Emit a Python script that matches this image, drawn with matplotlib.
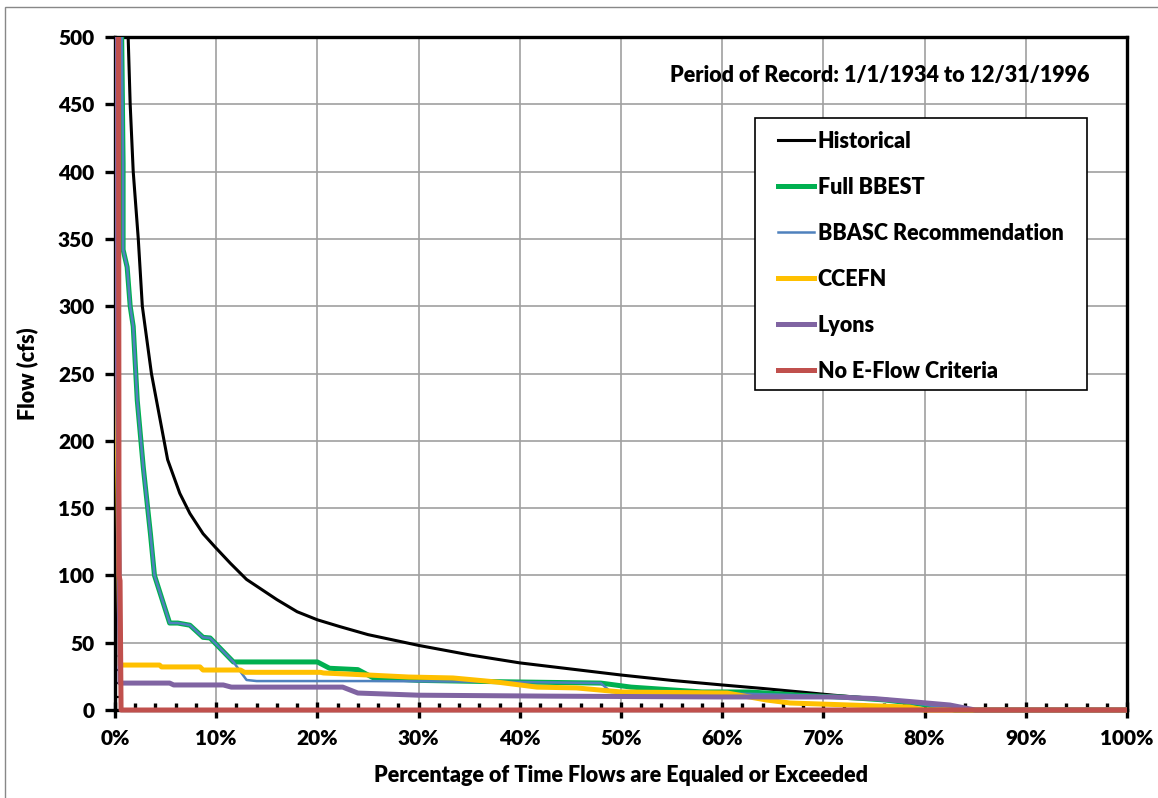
import numpy as np
import matplotlib.pyplot as plt
from matplotlib.patches import Rectangle
from matplotlib.ticker import MultipleLocator, FuncFormatter

plt.rcParams['font.family'] = ['Lato', 'DejaVu Sans']
plt.rcParams['font.weight'] = 'heavy'
W = 'heavy'

# Flow duration curves: percent of time exceeded vs flow (cfs)
hist_pct = [0, 1.0, 1.3, 1.5, 1.8, 2.3, 2.7, 3.6, 4.4, 5.2, 6.4, 7.4, 8.7, 9.9, 11.4, 13.0, 14.6, 16.0,
            18.0, 20.0, 22.2, 25.0, 30.0, 35.0, 40.0, 45.0, 50.0, 55.0, 60.0, 64.0, 67.7, 71.0, 75.0,
            79.0, 82.0, 85.0, 100]
hist_flow = [3000, 700, 500, 450, 400, 350, 300, 250, 218, 186, 161, 146, 131, 121, 109, 97, 89, 82,
             73, 67, 62, 56, 48, 41, 35, 30.5, 26, 22, 18.6, 16, 13.4, 11, 8.5,
             5.5, 2.5, 0, 0]

bbest_pct = [0, 0.5, 0.7, 0.8, 0.8, 1.2, 1.5, 1.8, 2.2, 2.8, 3.5, 3.9, 5.4, 6.2, 7.4, 8.7, 9.4,
             11.7, 20.0, 21.2, 24.0, 25.5, 30.0, 38.0, 48.0, 51.0, 58.0, 62.7, 67.7, 72.0, 76.0, 80.0, 83.0, 100]
bbest_flow = [3000, 600, 475, 406, 342, 329, 300, 285, 230, 180, 131, 100, 64.6, 64.6, 63, 54, 53.5,
              35.7, 35.7, 31, 30, 24, 22, 21, 20, 17, 13.4, 13.4, 11, 9.5, 7.5, 4, 0, 0]

bbasc_pct = [0, 0.5, 0.7, 0.8, 0.8, 1.2, 1.5, 1.8, 2.2, 2.8, 3.5, 3.9, 5.4, 6.2, 7.4, 8.7, 9.4,
             11.7, 13.0, 14.0, 25.0, 38.0, 48.0, 49.0, 58.0, 62.7, 67.7, 72.0, 76.0, 80.0, 83.0, 100]
bbasc_flow = [3000, 600, 475, 406, 342, 329, 300, 285, 230, 180, 131, 100, 64.6, 64.6, 63, 54, 53.5,
              35.7, 22.3, 21.5, 21.5, 21, 20, 13.4, 12.5, 12, 11, 9.5, 7.5, 4, 0, 0]

ccefn_pct = [0, 0.1, 0.2, 0.5, 4.4, 4.6, 8.4, 8.7, 12.4, 12.8, 20.3, 20.6, 25.0, 29.0, 33.4,
             37.7, 41.7, 45.6, 50.0, 60.5, 64.4, 66.7, 78.5, 80.0, 100]
ccefn_flow = [3000, 250, 220, 33.4, 33.4, 32, 32, 29.7, 29.7, 28, 28, 27.5, 26, 24.5, 23.8,
              20.8, 17, 16.4, 13.4, 12.6, 7.4, 5.2, 2.2, 0, 0]

lyons_pct = [0, 0.2, 0.5, 5.4, 5.8, 10.7, 11.5, 22.5, 24.0, 30.0, 43.0, 59.5, 71.0, 75.0, 79.0, 82.5, 85.0, 100]
lyons_flow = [3000, 300, 20, 20, 18.6, 18.6, 17, 17, 12.6, 11, 10.3, 9.7, 9.7, 8.5, 6, 3.7, 0, 0]

noflow_pct = [0, 0.35, 0.4, 0.5, 0.6, 100]
noflow_flow = [3000, 500, 100, 96, 0, 0]

series = [
    ('Historical', hist_pct, hist_flow, 'black', 2.2),
    ('Full BBEST', bbest_pct, bbest_flow, '#00B050', 3.6),
    ('BBASC Recommendation', bbasc_pct, bbasc_flow, '#4F81BD', 1.8),
    ('CCEFN', ccefn_pct, ccefn_flow, '#FFC000', 3.6),
    ('Lyons', lyons_pct, lyons_flow, '#8064A2', 3.6),
    ('No E-Flow Criteria', noflow_pct, noflow_flow, '#C0504D', 3.6),
]

fig = plt.figure(figsize=(11.58, 7.98), dpi=100)
ax = fig.add_axes([115 / 1158, 1 - 710 / 798, 1012 / 1158, 673 / 798])

# outer chart border
fig.patches.append(Rectangle((5 / 1158, -0.1), 1.2, 0.1 + (798 - 7) / 798, transform=fig.transFigure,
                             fill=False, edgecolor='#888888', linewidth=1.0, zorder=0))

# clip region a little taller than the axes at the bottom so the zero lines show fully
clip = Rectangle((0, -0.01), 1, 1.01, transform=ax.transAxes, visible=False)
ax.add_patch(clip)

for name, x, y, col, lw in series:
    ln, = ax.plot(np.array(x) / 100, y, color=col, lw=lw, label=name, zorder=6)
    ln.set_clip_path(clip)

ax.set_xlim(0, 1)
ax.set_ylim(0, 500)
ax.xaxis.set_major_locator(MultipleLocator(0.1))
ax.xaxis.set_minor_locator(MultipleLocator(0.02))
ax.yaxis.set_major_locator(MultipleLocator(50))
ax.yaxis.set_minor_locator(MultipleLocator(10))
ax.xaxis.set_major_formatter(FuncFormatter(lambda v, p: f'{v * 100:.0f}%'))

ax.grid(True, which='major', color='#A0A0A0', lw=1.2)
ax.tick_params(axis='x', which='major', direction='inout', length=12, width=2.4, labelsize=15, pad=8)
ax.tick_params(axis='x', which='minor', direction='in', length=5, width=2.4)
ax.tick_params(axis='y', which='major', direction='out', length=7, width=2.4, labelsize=15, pad=8)
ax.tick_params(axis='y', which='minor', direction='in', length=3, width=1.6)
for lab in ax.get_xticklabels() + ax.get_yticklabels():
    lab.set_fontweight(W)
for s in ax.spines.values():
    s.set_linewidth(2.4)
    s.set_zorder(5)

ax.set_xlabel('Percentage of Time Flows are Equaled or Exceeded', fontsize=15.5, fontweight=W, labelpad=12)
ax.set_ylabel('Flow (cfs)', fontsize=15.5, fontweight=W, labelpad=14)

ax.text(0.963, 0.943, 'Period of Record: 1/1/1934 to 12/31/1996', transform=ax.transAxes,
        ha='right', va='center', fontsize=15.5, fontweight=W)

# legend box drawn separately so the padding matches the original
ax.add_patch(Rectangle((0.6324, 0.4755), 0.328, 0.4042, transform=ax.transAxes, facecolor='white',
                       edgecolor='black', lw=1.2, zorder=7))
leg = ax.legend(loc='upper left', bbox_to_anchor=(0.655, 0.8603), fontsize=15.5, frameon=False,
                borderpad=0, labelspacing=1.16, handlelength=1.7, handletextpad=0.15, borderaxespad=0)
leg.set_zorder(8)
for t in leg.get_texts():
    t.set_fontweight(W)

fig.savefig('out.png', dpi=100)
